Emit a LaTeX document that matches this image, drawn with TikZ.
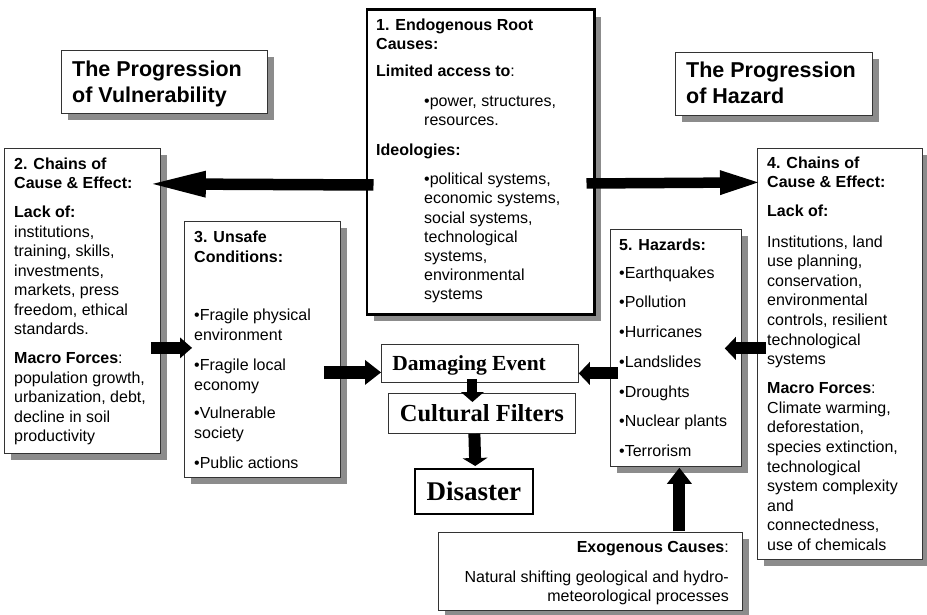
\documentclass[tikz,border=0pt]{standalone}
\usepackage{fontspec}
\setmainfont{Liberation Sans}
\newfontfamily\timesf{Liberation Serif}
\usetikzlibrary{arrows.meta,shadows}
\newcommand\fl{\rule{0pt}{12pt}}
\newcommand\ind{\hspace*{48pt}}
\begin{document}
\begin{tikzpicture}[x=1pt,y=-1pt,
  box/.style={draw=black!80, line width=0.8pt, fill=white, inner sep=0pt, anchor=north west},
  thickbox/.style={box, draw=black, line width=2.5pt},
  shad/.style={drop shadow={shadow xshift=7pt, shadow yshift=-7pt, fill=black!45, opacity=1, draw=none}},
  txt/.style={anchor=north west, inner sep=0pt, align=left, font=\fontsize{16}{19.5}\selectfont},
  ttl/.style={anchor=north west, inner sep=0pt, align=left, font=\fontsize{21.5}{26}\selectfont\bfseries},
  fat/.style n args={3}{line width=#1pt, line join=miter, -{Triangle[length=#2pt,width=#3pt,line width=0pt]}}
]
\fill[white] (0,0) rectangle (927,615);
\useasboundingbox (0,0) rectangle (927,615);

% titles
\node[box, shad, minimum width=206pt, minimum height=63pt] (t1) at (61,50) {};
\node[ttl] (t1t) at (72,60) {\rule{0pt}{16pt}The Progression\\of Vulnerability};
\node[box, shad, minimum width=197pt, minimum height=63pt] (t2) at (675,52) {};
\node[ttl] (t2t) at (686,61) {\rule{0pt}{16pt}The Progression\\of Hazard};

% box 1
\node[thickbox, shad, minimum width=227.5pt, minimum height=304.5pt] (b1) at (365.5,8.5) {};
\node[txt, font=\fontsize{16}{19.1}\selectfont] (b1t) at (376,18) {\fl\textbf{1. Endogenous Root}\\
\textbf{Causes:}\\[8.5pt]
\textbf{Limited access to}:\\[10.5pt]
\ind•power, structures,\\
\ind resources.\\[10.5pt]
\textbf{Ideologies:}\\[10.5pt]
\ind•political systems,\\
\ind economic systems,\\
\ind social systems,\\
\ind technological\\
\ind systems,\\
\ind environmental\\
\ind systems};

% box 2
\node[box, shad, minimum width=156pt, minimum height=305pt] (b2) at (4,148) {};
\node[txt] (b2t) at (14,157) {\fl\textbf{2. Chains of}\\
\textbf{Cause \& Effect:}\\[9.5pt]
\textbf{Lack of:}\\
institutions,\\
training, skills,\\
investments,\\
markets, press\\
freedom, ethical\\
standards.\\[9.5pt]
\textbf{Macro Forces}:\\
population growth,\\
urbanization, debt,\\
decline in soil\\
productivity};

% box 3
\node[box, shad, minimum width=156pt, minimum height=256pt] (b3) at (184,221) {};
\node[txt, font=\fontsize{16}{20}\selectfont] (b3t) at (194,230) {\fl\textbf{3. Unsafe}\\
\textbf{Conditions:}\\[38pt]
•Fragile physical\\
environment\\[10pt]
•Fragile local\\
economy\\[8pt]
•Vulnerable\\
society\\[10pt]
•Public actions};

% box 4
\node[box, shad, minimum width=165pt, minimum height=411pt] (b4) at (757,148) {};
\node[txt, font=\fontsize{16}{19.6}\selectfont] (b4t) at (767,156) {\fl\textbf{4. Chains of}\\
\textbf{Cause \& Effect:}\\[9.5pt]
\textbf{Lack of:}\\[10.5pt]
Institutions, land\\
use planning,\\
conservation,\\
environmental\\
controls, resilient\\
technological\\
systems\\[9.5pt]
\textbf{Macro Forces}:\\
Climate warming,\\
deforestation,\\
species extinction,\\
technological\\
system complexity\\
and\\
connectedness,\\
use of chemicals};

% box 5
\node[box, shad, minimum width=131pt, minimum height=237pt] (b5) at (610,229) {};
\node[txt] (b5t) at (619,238) {\fl\textbf{5. Hazards:}\\[8.5pt]
•Earthquakes\\[10.2pt]
•Pollution\\[10.2pt]
•Hurricanes\\[10.2pt]
•Landslides\\[10.2pt]
•Droughts\\[10.2pt]
•Nuclear plants\\[10.2pt]
•Terrorism};

% exogenous
\node[box, shad, minimum width=304pt, minimum height=78pt] (ex) at (438,532) {};
\node[txt, anchor=north east, align=right] (ext) at (729,540) {\fl\textbf{Exogenous Causes}:\\[10.5pt]
Natural shifting geological and hydro-\\
meteorological processes};

% central chain
\node[box, minimum width=197pt, minimum height=38pt, inner xsep=11pt, text height=15pt, text depth=0pt,
  font=\fontsize{21.5}{24}\selectfont\timesf\bfseries] (de) at (381,344) {\makebox[175pt][l]{Damaging Event}};
\node[box, minimum width=187pt, minimum height=40pt, text height=16.2pt, text depth=0pt,
  font=\fontsize{24.5}{28}\selectfont\timesf\bfseries] (cf) at (388,393) {Cultural Filters};
\node[thickbox, minimum width=118pt, minimum height=45pt, text height=17.9pt, text depth=0pt,
  font=\fontsize{27}{30}\selectfont\timesf\bfseries] (ds) at (413.5,467.5) {Disaster};

% arrows
\draw[fat={11.5}{53}{27}] ([shift={(8,23)}]b1.west) -- ([shift={(-8,-117)}]b2.east);
\draw[fat={10.5}{38}{25}] ([shift={(-9,21.5)}]b1.east) -- ([shift={(1,-171.5)}]b4.west);
\draw[fat={12}{12}{21}] ([shift={(-10,47)}]b2.east) -- ([shift={(8,-1.5)}]b3.west);
\draw[fat={13}{16}{25}] ([shift={(-17,23)}]b3.east) -- ([shift={(0,9)}]de.west);
\draw[fat={12}{11}{23}] ([shift={(8,25.5)}]b5.west) -- ([shift={(0,10)}]de.east);
\draw[fat={12}{11}{23}] ([shift={(9,-5.5)}]b4.west) -- ([shift={(-17,0.5)}]b5.east);
\draw[fat={10}{10}{23}] ([shift={(-7.5,-4)}]de.south) -- ([shift={(-9.5,9)}]cf.north);
\draw[fat={12}{8}{25}] ([shift={(-7.5,0)}]cf.south) -- ([shift={(1.5,-1.5)}]ds.north);
\draw[fat={12}{16}{25}] ([shift={(89,-1)}]ex.north) -- ([shift={(3.5,1)}]b5.south);
\end{tikzpicture}
\end{document}
